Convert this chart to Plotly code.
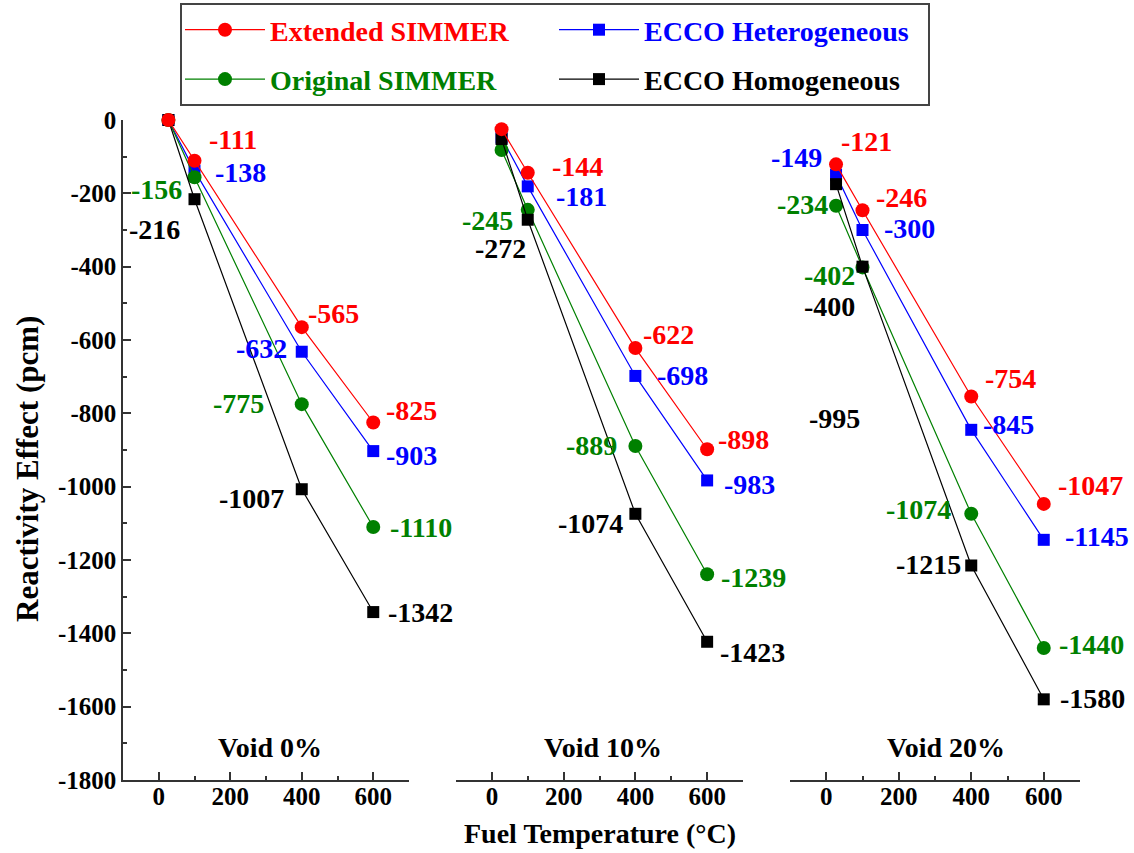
import plotly.graph_objects as go

# ---------------- data ----------------
temps = [27, 100, 400, 600]
void_labels = ["Void 0%", "Void 10%", "Void 20%"]
series_names = ["Extended SIMMER", "ECCO Heterogeneous", "Original SIMMER", "ECCO Homogeneous"]

ext_simmer = [[0, -111, -565, -825], [-25, -144, -622, -898], [-121, -246, -754, -1047]]
ecco_het = [[0, -138, -632, -903], [-48, -181, -698, -983], [-149, -300, -845, -1145]]
orig_simmer = [[0, -156, -775, -1110], [-82, -245, -889, -1239], [-234, -402, -1074, -1440]]
ecco_hom = [[0, -216, -1007, -1342], [-52, -272, -1074, -1423], [-175, -400, -1215, -1580]]

# which points carry a value label (per panel)
ext_lab = [[0, 1, 1, 1], [0, 1, 1, 1], [1, 1, 1, 1]]
het_lab = [[0, 1, 1, 1], [0, 1, 1, 1], [1, 1, 1, 1]]
orig_lab = [[0, 1, 1, 1], [0, 1, 1, 1], [1, 1, 1, 1]]
hom_lab = [[0, 1, 1, 1], [0, 1, 1, 1], [0, 1, 1, 1]]

# stray label in Void 20% panel
stray_text = "-995"
stray_x = 22
stray_y = -815

y_ticks = [0, -200, -400, -600, -800, -1000, -1200, -1400, -1600, -1800]
y_tick_text = ["0", "-200", "-400", "-600", "-800", "-1000", "-1200", "-1400", "-1600", "-1800"]
x_ticks = [0, 200, 400, 600]
x_tick_text = ["0", "200", "400", "600"]

# ---------------- styles ----------------
FONT = "Liberation Serif, Times New Roman, serif"
colors = {"Extended SIMMER": "#ff0000", "ECCO Heterogeneous": "#0000ff",
          "Original SIMMER": "#008000", "ECCO Homogeneous": "#000000"}
symbols = {"Extended SIMMER": "circle", "ECCO Heterogeneous": "square",
           "Original SIMMER": "circle", "ECCO Homogeneous": "square"}
msize = {"Extended SIMMER": 14, "ECCO Heterogeneous": 12,
         "Original SIMMER": 14, "ECCO Homogeneous": 12}

# label offsets in px (dx right, dy down), per panel per point
offsets = {
    "Extended SIMMER": [[None, (38, -21), (32, -14), (38, -12)],
                        [None, (50, -6), (33, -14), (36, -10)],
                        [(30, -23), (39, -13), (39, -18), (47, -18)]],
    "ECCO Heterogeneous": [[None, (46, 2), (-40, -3), (38, 4)],
                           [None, (54, 10), (47, 0), (42, 4)],
                           [(-40, -17), (47, -2), (37, -5), (53, -3)]],
    "Original SIMMER": [[None, (-38, 12), (-63, -1), (48, 0)],
                        [None, (-40, 11), (-44, 0), (46, 3)],
                        [(-34, -1), (-33, 8), (-53, -4), (48, -4)]],
    "ECCO Homogeneous": [[None, (-40, 30), (-50, 9), (47, 0)],
                         [None, (-27, 29), (-45, 10), (45, 11)],
                         [None, (-33, 40), (-43, -1), (49, -1)]],
}

values = {"Extended SIMMER": ext_simmer, "ECCO Heterogeneous": ecco_het,
          "Original SIMMER": orig_simmer, "ECCO Homogeneous": ecco_hom}
labflags = {"Extended SIMMER": ext_lab, "ECCO Heterogeneous": het_lab,
            "Original SIMMER": orig_lab, "ECCO Homogeneous": hom_lab}
rank = {"Extended SIMMER": 1, "ECCO Heterogeneous": 2, "Original SIMMER": 3, "ECCO Homogeneous": 4}

draw_order = ["ECCO Heterogeneous", "Original SIMMER", "ECCO Homogeneous", "Extended SIMMER"]

fig = go.Figure()
annotations = []
xrefs = ["x", "x2", "x3"]

for name in draw_order:
    for p in range(3):
        fig.add_trace(go.Scatter(
            x=temps, y=values[name][p], xaxis=xrefs[p], yaxis="y",
            mode="lines+markers",
            name=f"<span style='color:{colors[name]}'>{name}</span>",
            legendgroup=name, legendrank=rank[name],
            showlegend=(p == 0), cliponaxis=False,
            line=dict(color=colors[name], width=1.2),
            marker=dict(color=colors[name], symbol=symbols[name], size=msize[name]),
        ))
        for i, v in enumerate(values[name][p]):
            if not labflags[name][p][i]:
                continue
            dx, dy = offsets[name][p][i]
            annotations.append(dict(
                x=temps[i], y=v, xref=xrefs[p], yref="y", text=str(v),
                showarrow=False, xshift=dx, yshift=-dy, xanchor="center", yanchor="middle",
                font=dict(family=FONT, size=28, color=colors[name], weight="bold"),
            ))

annotations.append(dict(x=stray_x, y=stray_y, xref="x3", yref="y", text=stray_text,
                        showarrow=False, xanchor="center", yanchor="middle",
                        font=dict(family=FONT, size=28, color="#000000", weight="bold")))

# panel labels
void_px = [270, 603, 946]
L, R, T, B = 123, 54, 120, 73
W, H = 1134, 853
pw = W - L - R
ph = H - T - B
for txt, px in zip(void_labels, void_px):
    annotations.append(dict(x=(px - L) / pw, y=(780 - 747) / ph, xref="paper", yref="paper",
                            text=txt, showarrow=False, xanchor="center", yanchor="middle",
                            font=dict(family=FONT, size=28, color="#000000", weight="bold")))

# axis titles
annotations.append(dict(x=(600 - L) / pw, y=(780 - 833) / ph, xref="paper", yref="paper",
                        text="Fuel Temperature (°C)", showarrow=False,
                        xanchor="center", yanchor="middle",
                        font=dict(family=FONT, size=28, color="#000000", weight="bold")))
annotations.append(dict(x=(27 - L) / pw, y=(780 - 469) / ph, xref="paper", yref="paper",
                        text="Reactivity Effect (pcm)", showarrow=False, textangle=-90,
                        xanchor="center", yanchor="middle",
                        font=dict(family=FONT, size=31, color="#000000", weight="bold")))

tickfont = dict(family=FONT, size=25, color="#000000", weight="bold")
xaxis_common = dict(range=[-100, 700], tickvals=x_ticks, ticktext=x_tick_text,
                    ticks="inside", ticklen=8, ticklabelstandoff=-7,
                    tickwidth=1.5, tickcolor="#333", showline=True, linecolor="#333",
                    linewidth=1.5, showgrid=False, zeroline=False, tickfont=tickfont,
                    minor=dict(dtick=100, tick0=-100, ticks="inside", ticklen=4,
                               tickwidth=1.5, tickcolor="#333", showgrid=False),
                    anchor="y", fixedrange=True, automargin=False)

def dom(a, b):
    return [(a - L) / pw, (b - L) / pw]

fig.update_layout(
    width=W, height=H,
    margin=dict(l=L, r=R, t=T, b=B, autoexpand=False),
    paper_bgcolor="white", plot_bgcolor="white",
    font=dict(family=FONT, color="#000000"),
    xaxis=dict(domain=dom(123, 409), **xaxis_common),
    xaxis2=dict(domain=dom(456, 743), **xaxis_common),
    xaxis3=dict(domain=[(790 - L) / pw, 1.0], **xaxis_common),
    yaxis=dict(range=[-1800, 0], tickvals=y_ticks, ticktext=y_tick_text,
               ticks="inside", ticklen=8,
               tickwidth=1.5, tickcolor="#333", showline=True, linecolor="#333",
               linewidth=1.5, showgrid=False, zeroline=False, tickfont=tickfont,
               minor=dict(dtick=100, ticks="inside", ticklen=4, tickwidth=1.5,
                          tickcolor="#333", showgrid=False),
               domain=[0, 1], fixedrange=True, automargin=False),
    legend=dict(orientation="h", x=(180 - L) / pw, y=1 + (120 - 3) / ph,
                xanchor="left", yanchor="top", entrywidth=279, entrywidthmode="pixels",
                itemwidth=80,
                font=dict(family=FONT, size=28, weight="bold"),
                bordercolor="#444", borderwidth=2, bgcolor="white"),
    annotations=annotations,
    showlegend=True,
)

fig.write_html("out.html", config={"displayModeBar": False},
               post_script="document.body.style.margin='0px';")
